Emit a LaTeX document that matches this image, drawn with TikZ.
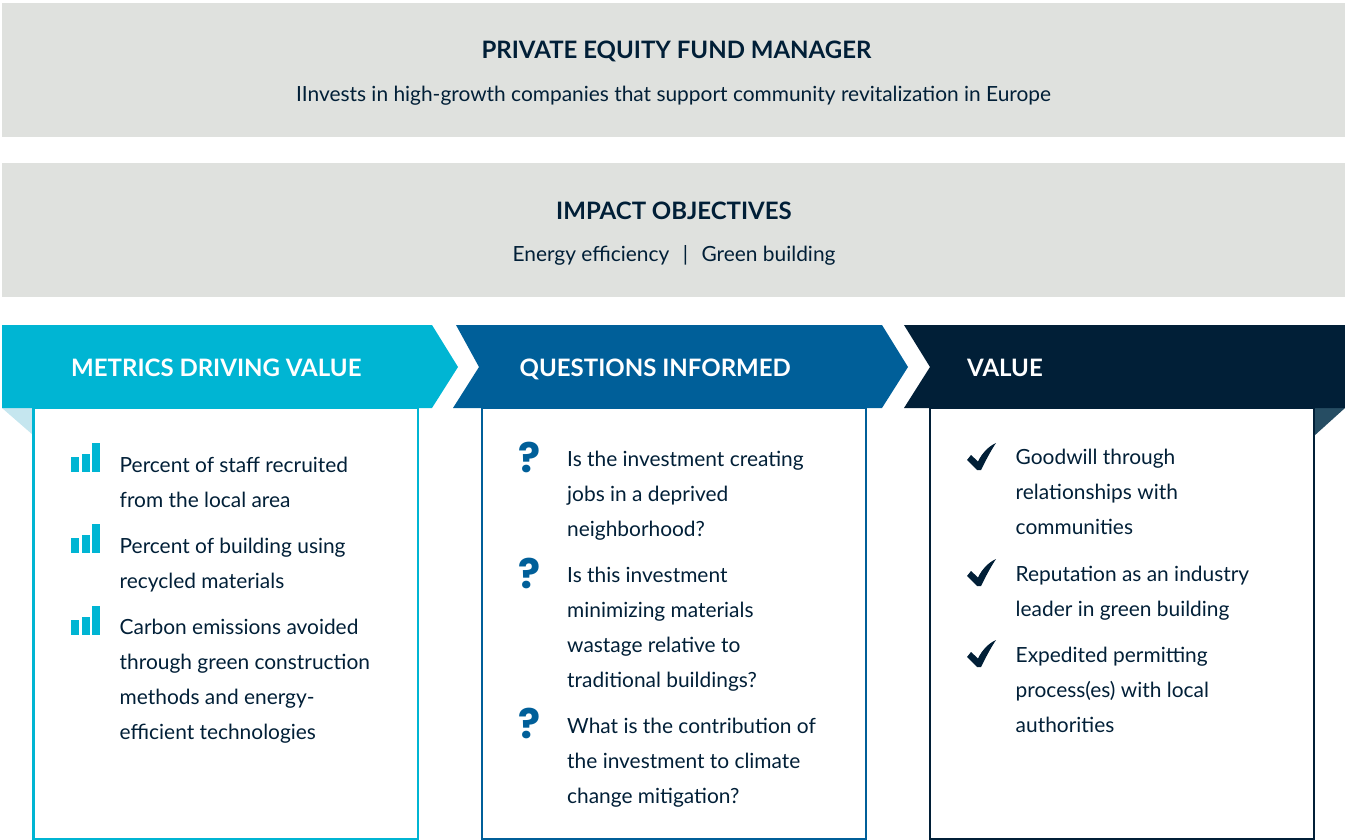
\documentclass[tikz,border=0pt]{standalone}
\usepackage{fontspec}
\setmainfont{Lato}
\newfontfamily\markfont{Poppins}
\definecolor{panelgray}{HTML}{DFE1DE}
\definecolor{metriccyan}{HTML}{00B5D3}
\definecolor{questionblue}{HTML}{005F99}
\definecolor{valuenavy}{HTML}{011F37}
\definecolor{foldcyan}{HTML}{C5E6EF}
\definecolor{foldnavy}{HTML}{264D63}
\tikzset{
  paneltitle/.style={font=\fontsize{24}{28}\selectfont\bfseries, text=valuenavy, anchor=base, inner sep=0pt},
  paneltext/.style={font=\fontsize{20.9}{28}\selectfont, text=valuenavy, anchor=base, inner sep=0pt},
  headtext/.style={font=\fontsize{24}{28}\selectfont\bfseries, text=white, anchor=base west, inner sep=0pt},
  itemtext/.style={font=\fontsize{20.9}{35}\selectfont, text=valuenavy, anchor=base west, align=left, inner sep=0pt},
  questionmark/.style={font=\markfont\fontsize{41}{42}\selectfont\bfseries, text=questionblue, anchor=base, inner sep=0pt},
  columnbox/.style={line width=2.4pt},
  pics/barsicon/.style={code={
    \fill[metriccyan] (0,0) rectangle (8,-15);
    \fill[metriccyan] (11,0) rectangle (19,-18);
    \fill[metriccyan] (21,0) rectangle (29,-29);
  }},
  pics/checkicon/.style={code={
    \fill[valuenavy] (0,-10) -- (4,-15) -- (11,-8.5) .. controls (15,-17) and (22,-24) .. (29,-27)
      .. controls (23,-18) and (18,-8) .. (14,0) -- (10,0) -- cycle;
  }}
}
\begin{document}
\begin{tikzpicture}[x=1pt,y=-1pt]
  \useasboundingbox (0,0) rectangle (1345,840);

  % grey panels
  \fill[panelgray] (2,3) rectangle (1345,137);
  \fill[panelgray] (2,163) rectangle (1345,297);
  \node[paneltitle] (managertitle) at (676.5,59) {PRIVATE EQUITY FUND MANAGER};
  \node[paneltext] (managertext) at (673.5,102) {IInvests in high-growth companies that support community revitalization in Europe};
  \node[paneltitle] (objectivestitle) at (674,219) {IMPACT OBJECTIVES};
  \node[paneltext] (objectivestext) at (674,261) {Energy efficiency\hspace{13.5pt}|\hspace{13.5pt}Green building};

  % folds
  \fill[foldcyan] (2,408) -- (33,408) -- (33,435) -- cycle;
  \fill[foldnavy] (1314,408) -- (1345,408) -- (1314,436) -- cycle;

  % columns
  \draw[metriccyan, columnbox] (33.5,408) rectangle (418,839);
  \draw[questionblue, columnbox] (482,408) rectangle (866,839);
  \draw[valuenavy, columnbox] (930,408) rectangle (1314,839);

  % headers
  \fill[metriccyan] (2,325) -- (432,325) -- (458,367) -- (432,408) -- (2,408) -- cycle;
  \fill[questionblue] (456,325) -- (882,325) -- (908,367) -- (882,408) -- (453,408) -- (479,367) -- cycle;
  \fill[valuenavy] (904,325) -- (1345,325) -- (1345,408) -- (904,408) -- (930,367) -- cycle;
  \node[headtext] (metricshead) at (71,376) {METRICS DRIVING VALUE};
  \node[headtext] (questionshead) at (519.5,376) {QUESTIONS INFORMED};
  \node[headtext] (valuehead) at (967,376) {VALUE};

  % first column
  \pic at (71,472) {barsicon};
  \pic at (71,553) {barsicon};
  \pic at (71,635) {barsicon};
  \node[itemtext] (metricone) at (119.5,507) {Percent of staff recruited\\from the local area};
  \node[itemtext] (metrictwo) at (119.5,588) {Percent of building using\\recycled materials};
  \node[itemtext] (metricthree) at (119.5,739) {Carbon emissions avoided\\through green construction\\methods and energy-\\efficient technologies};

  % second column
  \node[questionmark] (markone) at (530,472.5) {?};
  \node[questionmark] (marktwo) at (530,588.5) {?};
  \node[questionmark] (markthree) at (530,738.5) {?};
  \node[itemtext] (questionone) at (567,536) {Is the investment creating\\jobs in a deprived\\neighborhood?};
  \node[itemtext] (questiontwo) at (567,687) {Is this investment\\minimizing materials\\wastage relative to\\traditional buildings?};
  \node[itemtext] (questionthree) at (567,803) {What is the contribution of\\the investment to climate\\change mitigation?};

  % third column
  \pic at (967,470) {checkicon};
  \pic at (967,586) {checkicon};
  \pic at (967,667) {checkicon};
  \node[itemtext] (valueone) at (1015.5,534) {Goodwill through\\relationships with\\communities};
  \node[itemtext] (valuetwo) at (1015.5,616) {Reputation as an industry\\leader in green building};
  \node[itemtext] (valuethree) at (1015.5,732) {Expedited permitting\\process(es) with local\\authorities};

\end{tikzpicture}
\end{document}
